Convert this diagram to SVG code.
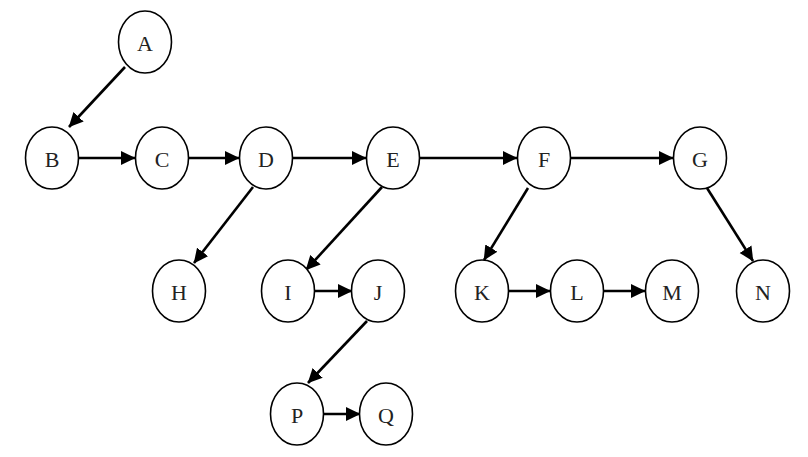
<svg xmlns="http://www.w3.org/2000/svg" width="808" height="457" viewBox="0 0 808 457">
<style>
.n ellipse{fill:#fff;stroke:#000;stroke-width:1.6}
.n text{font-family:"Liberation Serif","DejaVu Serif",serif;font-size:22px;text-anchor:middle;dominant-baseline:central;fill:#222}
.e line{stroke:#000;stroke-width:2.6;marker-end:url(#ah)}
</style>
<defs>
<marker id="ah" markerUnits="userSpaceOnUse" markerWidth="15" markerHeight="15" refX="14" refY="7.5" orient="auto">
<path d="M0,0.5 L14.5,7.5 L0,14.5 z" fill="#000"/>
</marker>
</defs>
<rect width="808" height="457" fill="#fff"/>
<g id="connectors" class="e">
<line x1="125" y1="67" x2="69" y2="127"/>
<line x1="79" y1="158" x2="135" y2="158"/>
<line x1="189" y1="158" x2="239" y2="158"/>
<line x1="293" y1="158" x2="366" y2="158"/>
<line x1="420" y1="158" x2="517" y2="158"/>
<line x1="571" y1="158" x2="673" y2="158"/>
<line x1="253" y1="187" x2="194" y2="263"/>
<line x1="382" y1="187" x2="306" y2="270"/>
<line x1="528" y1="188" x2="484" y2="260"/>
<line x1="707" y1="188" x2="753" y2="261"/>
<line x1="315" y1="291" x2="352" y2="291"/>
<line x1="509" y1="291" x2="550" y2="291"/>
<line x1="603" y1="291" x2="645" y2="291"/>
<line x1="367" y1="321" x2="308" y2="383"/>
<line x1="323" y1="414" x2="360" y2="414"/>
</g>
<g id="A" class="n"><ellipse cx="145" cy="42" rx="26.5" ry="31"/><text x="145" y="43">A</text></g>
<g id="B" class="n"><ellipse cx="52" cy="158" rx="26.5" ry="31"/><text x="52" y="159">B</text></g>
<g id="C" class="n"><ellipse cx="162" cy="158" rx="26.5" ry="31"/><text x="162" y="159">C</text></g>
<g id="D" class="n"><ellipse cx="266" cy="158" rx="26.5" ry="31"/><text x="266" y="159">D</text></g>
<g id="E" class="n"><ellipse cx="393" cy="158" rx="26.5" ry="31"/><text x="393" y="159">E</text></g>
<g id="F" class="n"><ellipse cx="544" cy="158" rx="26.5" ry="31"/><text x="544" y="159">F</text></g>
<g id="G" class="n"><ellipse cx="700" cy="158" rx="26.5" ry="31"/><text x="700" y="159">G</text></g>
<g id="H" class="n"><ellipse cx="179" cy="291" rx="26.5" ry="31"/><text x="179" y="292">H</text></g>
<g id="I" class="n"><ellipse cx="288" cy="291" rx="26.5" ry="31"/><text x="288" y="292">I</text></g>
<g id="J" class="n"><ellipse cx="378" cy="291" rx="26.5" ry="31"/><text x="378" y="292">J</text></g>
<g id="K" class="n"><ellipse cx="482" cy="291" rx="26.5" ry="31"/><text x="482" y="292">K</text></g>
<g id="L" class="n"><ellipse cx="577" cy="291" rx="26.5" ry="31"/><text x="577" y="292">L</text></g>
<g id="M" class="n"><ellipse cx="672" cy="291" rx="26.5" ry="31"/><text x="672" y="292">M</text></g>
<g id="N" class="n"><ellipse cx="763" cy="291" rx="26.5" ry="31"/><text x="763" y="292">N</text></g>
<g id="P" class="n"><ellipse cx="297" cy="414" rx="26.5" ry="31"/><text x="297" y="415">P</text></g>
<g id="Q" class="n"><ellipse cx="386" cy="414" rx="26.5" ry="31"/><text x="386" y="415">Q</text></g>
</svg>
